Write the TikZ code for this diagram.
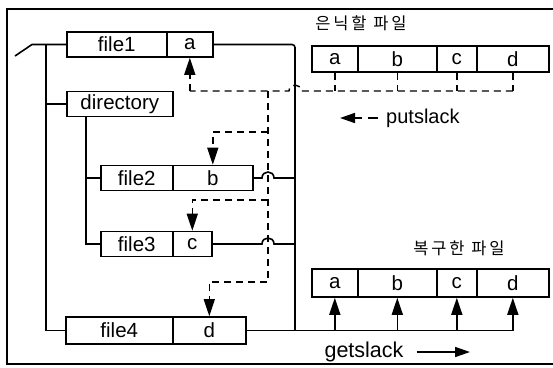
\documentclass[tikz,border=0pt]{standalone}
\usepackage{fontspec}
\setmainfont{Liberation Sans}
\newfontfamily\krfont{Noto Sans CJK KR}
\usetikzlibrary{arrows.meta,calc}
\begin{document}
\begin{tikzpicture}[x=1pt,y=-1pt,
  ln/.style={line width=1.6pt},
  cell/.style={draw,line width=1.6pt,minimum height=25pt,inner sep=0pt,anchor=west,font=\fontsize{20.5}{22}\selectfont},
  dsh/.style={line width=1.4pt,dash pattern=on 7pt off 5pt},
  tri/.style={-{Triangle[length=17pt,width=11pt]}},
  lbl/.style={inner sep=0pt,font=\fontsize{20}{22}\selectfont},
  krl/.style={inner sep=0pt,font={\fontsize{16.5}{18}\selectfont\krfont}}
]
\useasboundingbox (0,0) rectangle (553,367);
% frame
\coordinate (fr1) at (553,9);
\coordinate (fr2) at (7,9);
\coordinate (fr3) at (7,364);
\coordinate (fr4) at (553,364);
\draw[line width=1.8pt] (fr1) -- (fr2) -- (fr3) -- (fr4);

% file cells
\node[cell,minimum width=100pt] (f1n) at (66,44.5) {file1};
\node[cell,minimum width=46pt] (f1d) at (166,44.5) {a};
\node[cell,minimum width=106pt] (dir) at (66,104) {directory};
\node[cell,minimum width=72pt] (f2n) at (100,178) {file2};
\node[cell,minimum width=80pt] (f2d) at (172,178) {b};
\node[cell,minimum width=72pt] (f3n) at (100,244) {file3};
\node[cell,minimum width=39pt] (f3d) at (172,244) {c};
\node[cell,minimum width=107pt,minimum height=27pt] (f4n) at (65,330.5) {file4};
\node[cell,minimum width=73pt,minimum height=27pt] (f4d) at (172,330.5) {d};

% hidden file
\node[cell,minimum width=46pt,minimum height=26pt] (ha) at (311,59) {a};
\node[cell,minimum width=79pt,minimum height=26pt] (hb) at (357,59) {b};
\node[cell,minimum width=40pt,minimum height=26pt] (hc) at (436,59) {c};
\node[cell,minimum width=72pt,minimum height=26pt] (hd) at (476,59) {d};
% restored file
\node[cell,minimum width=46pt,minimum height=28pt] (ra) at (311,283) {a};
\node[cell,minimum width=79pt,minimum height=28pt] (rb) at (357,283) {b};
\node[cell,minimum width=40pt,minimum height=28pt] (rc) at (436,283) {c};
\node[cell,minimum width=72pt,minimum height=28pt] (rd) at (476,283) {d};

% labels
\node[krl] (hl) at (361,23) {은\,닉\,할\hspace{7pt}파\,일};
\node[krl] (rl) at (459,248) {복\,구\,한\hspace{7pt}파\,일};
\node[lbl,anchor=west] (put) at (386,118) {putslack};
\node[lbl,font=\fontsize{21.5}{22}\selectfont] (get) at (364,352) {getslack};
\coordinate (pt) at (340,118);
\coordinate (gt) at (470,352);
\draw[line width=1.6pt,dash pattern=on 10pt off 6pt,-{Triangle[length=15pt,width=10pt]}] ([xshift=-8pt]put.west) -- (pt);
\draw[ln,-{Triangle[length=15pt,width=10pt]}] ([xshift=13pt]get.east) -- (gt);

% directory tree
\coordinate (slash) at (15,56);
\coordinate (root) at (32,44.5);
\coordinate (bt) at (46,44.5);
\draw[ln] (slash) -- (root) -- (f1n.west);
\draw[ln] (bt) |- (f4n.west);
\draw[ln] (bt |- dir.west) -- (dir.west);
\coordinate (dt) at ([xshift=20pt]dir.south west);
\draw[ln] (dt) |- (f3n.west);
\draw[ln] (dt |- f2n.west) -- (f2n.west);

% right bus
\coordinate (rt) at (295,44.5);
\coordinate (dv) at (268,91);
\draw[ln,rounded corners=3pt] (f1d.east) -- (rt) -- (rt |- f4d.east);
\draw[ln] (f4d.east) -- (rd.south |- f4d.east);
\draw[ln] (f2d.east) -- ($(dv |- f2d.east)+(-6,0)$) .. controls +(0,-8) and +(0,-8) .. ($(dv |- f2d.east)+(6,0)$) -- (rt |- f2d.east);
\draw[ln] (f3d.east) -- ($(dv |- f3d.east)+(-6,0)$) .. controls +(0,-8) and +(0,-8) .. ($(dv |- f3d.east)+(6,0)$) -- (rt |- f3d.east);
\foreach \c in {ra,rb,rc,rd}{
  \draw[ln,tri] (\c.south |- f4d.east) -- (\c.south);
}

% putslack dashed
\foreach \c in {ha,hb,hc,hd}{
  \draw[dsh] (\c.south) -- (\c.south |- dv);
}
\draw[dsh] (hd.south |- dv) -- ($(rt |- dv)+(6,0)$) .. controls +(0,-8) and +(0,-8) .. ($(rt |- dv)+(-6,0)$) -- (f1d.south |- dv);
\draw[dsh,tri] (f1d.south |- dv) -- (f1d.south);
\coordinate (dvb) at (268,282);
\coordinate (b2) at (268,132);
\coordinate (b3) at (268,200);
\draw[dsh,tri] (dv) -- (dvb) -| (f4d.north);
\draw[dsh,tri] (b2) -| (f2d.north);
\draw[dsh,tri] (b3) -| (f3d.north);
\end{tikzpicture}
\end{document}
